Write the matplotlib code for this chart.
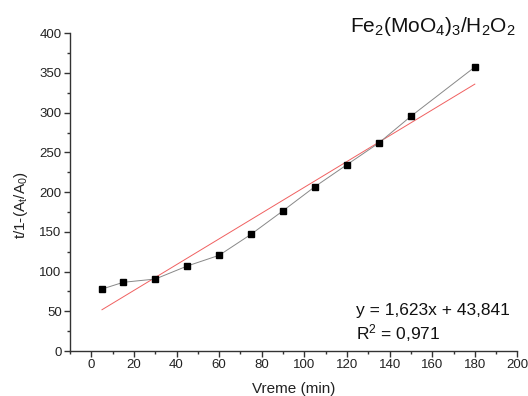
"""
Fe2(MoO4)3/H2O2 kinetics plot with linear fit
"""

import numpy as np
import matplotlib
matplotlib.use('Agg')
import matplotlib.pyplot as plt
from matplotlib.ticker import MultipleLocator

plt.rcParams['font.family'] = ['Liberation Sans', 'DejaVu Sans']
plt.rcParams['mathtext.fontset'] = 'custom'
plt.rcParams['mathtext.rm'] = 'Liberation Sans'
plt.rcParams['mathtext.it'] = 'Liberation Sans'

# measured points
time_min = [5, 15, 30, 45, 60, 75, 90, 105, 120, 135, 150, 180]
t_ratio = [78, 86.5, 90.6, 107, 120.5, 147, 176.6, 207, 234.6, 262, 295.5, 357.5]

# linear fit reported on the chart
slope = 1.623
intercept = 43.841
fit_x = [5, 180]


def setup_fig():
    fig = plt.figure(figsize=[5.28, 3.96], dpi=100)
    ax = fig.add_axes([0.1326, 0.1136, 0.8474, 0.8024])
    ax.spines['top'].set_visible(False)
    ax.spines['right'].set_visible(False)
    for side in ['left', 'bottom']:
        ax.spines[side].set_color('#333333')
        ax.spines[side].set_linewidth(1.0)

    ax.set_xlim(-10, 200)
    ax.set_ylim(0, 400)
    ax.xaxis.set_major_locator(MultipleLocator(20))
    ax.xaxis.set_minor_locator(MultipleLocator(10))
    ax.yaxis.set_major_locator(MultipleLocator(50))
    ax.yaxis.set_minor_locator(MultipleLocator(25))
    ax.tick_params(which='major', direction='out', length=4, width=1,
                   color='#333333', labelsize=9.5, labelcolor='#222222', pad=2)
    ax.tick_params(which='minor', direction='out', length=2.5, width=1,
                   color='#333333')

    ax.set_xlabel('Vreme (min)', fontsize=11, color='#222222', va='top')
    ax.xaxis.set_label_coords(0.5, -0.097)
    ax.set_ylabel(r'$\mathregular{t/1\text{-}(A_t/A_0)}$', fontsize=11,
                  color='#222222', va='center')
    ax.yaxis.set_label_coords(-0.11, 0.46)
    return fig, ax


def plot_data(fig, ax):
    ax.plot(time_min, t_ratio, color='#888888', linewidth=0.7,
            marker='s', markersize=5, markerfacecolor='black',
            markeredgecolor='black', zorder=3)

    fit_y = [slope * x + intercept for x in fit_x]
    ax.plot(fit_x, fit_y, color='#f06060', linewidth=0.7, zorder=2)

    fig.text(0.977, 0.919, r'Fe$_2$(MoO$_4$)$_3$/H$_2$O$_2$',
             ha='right', va='baseline', fontsize=15, color='#111111')
    ax.text(0.639, 0.113, 'y = 1,623x + 43,841', transform=ax.transAxes,
            ha='left', va='baseline', fontsize=12.5, color='#111111')
    ax.text(0.639, 0.035, r'R$^2$ = 0,971', transform=ax.transAxes,
            ha='left', va='baseline', fontsize=12.5, color='#111111')


if __name__ == "__main__":
    fig, ax = setup_fig()
    plot_data(fig, ax)
    fig.savefig('out.png', dpi=100)
